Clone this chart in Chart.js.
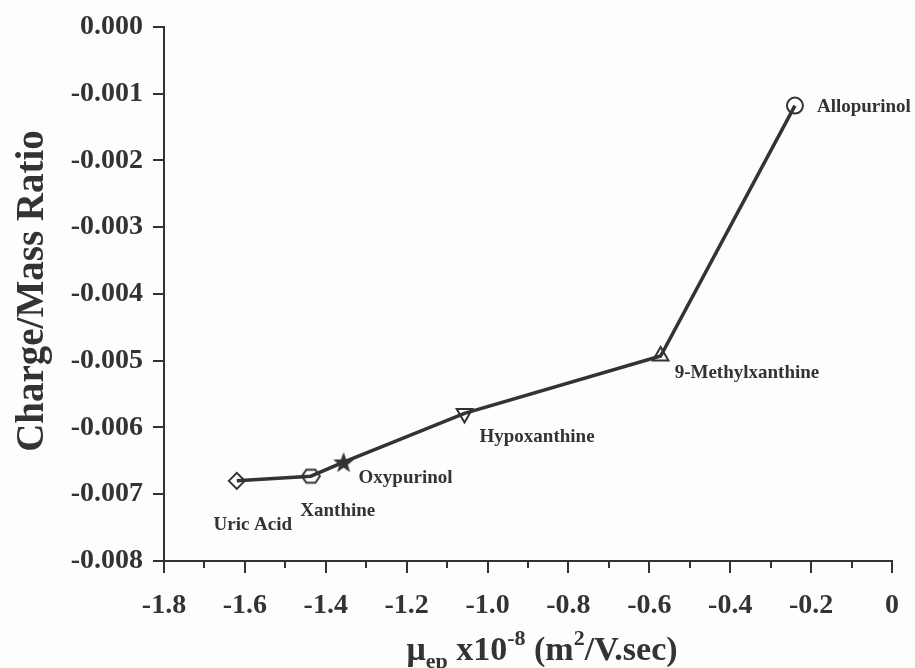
<!DOCTYPE html>
<html>
<head>
<meta charset="utf-8">
<title>Charge/Mass Ratio</title>
<script src="https://cdn.jsdelivr.net/npm/chart.js@4.4.1/dist/chart.umd.min.js"></script>
<style>
  html, body { margin: 0; padding: 0; background: #fdfdfc; }
  #chartBox { width: 915px; height: 668px; }
</style>
</head>
<body>
<div id="chartBox"><canvas id="mobilityChart" width="915" height="668"></canvas></div>
<script>
// Données : mobilité électrophorétique (x10^-8) et rapport charge/masse
const compounds = ['Uric Acid', 'Xanthine', 'Oxypurinol', 'Hypoxanthine', '9-Methylxanthine', 'Allopurinol'];
const mobility = [-1.62, -1.437, -1.356, -1.057, -0.572, -0.24];
const chargeMass = [-0.0068, -0.00673, -0.00652, -0.00579, -0.00493, -0.00118];
const xTicks = [-1.8, -1.6, -1.4, -1.2, -1.0, -0.8, -0.6, -0.4, -0.2, 0];
const yTicks = [0, -0.001, -0.002, -0.003, -0.004, -0.005, -0.006, -0.007, -0.008];

const INK = '#333333';
const SERIF = '"Liberation Serif", "Times New Roman", serif';

// Décalages des étiquettes par rapport au point (px)
const labelPos = [
    { dx: 16, dy: 44, align: 'center' },
    { dx: 27, dy: 35, align: 'center' },
    { dx: 15, dy: 16, align: 'left' },
    { dx: 15, dy: 24, align: 'left' },
    { dx: 14, dy: 17, align: 'left' },
    { dx: 22, dy: 1, align: 'left' }
];

// Marqueurs dessinés à la main (hexagone, étoile pleine)
function makeMarker(size, drawFn) {
    const c = document.createElement('canvas');
    c.width = size; c.height = size;
    const g = c.getContext('2d');
    g.strokeStyle = INK;
    g.fillStyle = INK;
    g.lineWidth = 2;
    drawFn(g, size / 2);
    return c;
}

const hexagon = makeMarker(22, function(g, m) {
    g.beginPath();
    for (let i = 0; i < 6; i++) {
        const a = Math.PI / 3 * i;
        const px = m + 9 * Math.cos(a);
        const py = m + 7.5 * Math.sin(a);
        if (i === 0) g.moveTo(px, py); else g.lineTo(px, py);
    }
    g.closePath();
    g.stroke();
});

const star = makeMarker(24, function(g, m) {
    g.beginPath();
    for (let i = 0; i < 10; i++) {
        const r = i % 2 === 0 ? 11 : 4.5;
        const a = -Math.PI / 2 + Math.PI / 5 * i;
        const px = m + r * Math.cos(a);
        const py = m + 1 + r * Math.sin(a);
        if (i === 0) g.moveTo(px, py); else g.lineTo(px, py);
    }
    g.closePath();
    g.fill();
});

const points = mobility.map(function(x, i) { return { x: x, y: chargeMass[i] }; });

// Fond, graduations secondaires, étiquettes et titres des axes
const extrasPlugin = {
    id: 'extras',
    beforeDraw: function(chart) {
        const ctx = chart.ctx;
        ctx.save();
        ctx.fillStyle = '#fdfdfc';
        ctx.fillRect(0, 0, chart.width, chart.height);
        ctx.restore();
    },
    afterDraw: function(chart) {
        const ctx = chart.ctx;
        const xs = chart.scales.x;
        const ys = chart.scales.y;
        ctx.save();

        // petites graduations sur l'axe x
        ctx.strokeStyle = INK;
        ctx.lineWidth = 2;
        for (let i = 0; i < xTicks.length - 1; i++) {
            const v = (xTicks[i] + xTicks[i + 1]) / 2;
            const px = Math.round(xs.getPixelForValue(v));
            ctx.beginPath();
            ctx.moveTo(px, xs.top);
            ctx.lineTo(px, xs.top + 7);
            ctx.stroke();
        }

        // noms des composés
        ctx.fillStyle = INK;
        ctx.font = 'bold 19px ' + SERIF;
        ctx.textBaseline = 'middle';
        compounds.forEach(function(name, i) {
            const px = xs.getPixelForValue(mobility[i]);
            const py = ys.getPixelForValue(chargeMass[i]);
            ctx.textAlign = labelPos[i].align;
            ctx.fillText(name, px + labelPos[i].dx, py + labelPos[i].dy);
        });

        // titre de l'axe y
        ctx.save();
        ctx.translate(43, 291);
        ctx.rotate(-Math.PI / 2);
        ctx.textAlign = 'center';
        ctx.textBaseline = 'alphabetic';
        ctx.font = 'bold 39px ' + SERIF;
        ctx.fillText('Charge/Mass Ratio', 0, 0);
        ctx.restore();

        // titre de l'axe x avec indice et exposants
        const parts = [
            { t: 'μ', size: 34, dy: 0 },
            { t: 'ep', size: 22, dy: 8 },
            { t: ' x10', size: 34, dy: 0 },
            { t: '-8', size: 22, dy: -15 },
            { t: ' (m', size: 34, dy: 0 },
            { t: '2', size: 22, dy: -15 },
            { t: '/V.sec)', size: 34, dy: 0 }
        ];
        ctx.textAlign = 'left';
        ctx.textBaseline = 'alphabetic';
        let total = 0;
        parts.forEach(function(p) {
            ctx.font = 'bold ' + p.size + 'px ' + SERIF;
            p.w = ctx.measureText(p.t).width;
            total += p.w;
        });
        let cx = 542 - total / 2;
        parts.forEach(function(p) {
            ctx.font = 'bold ' + p.size + 'px ' + SERIF;
            ctx.fillText(p.t, cx, 660 + p.dy);
            cx += p.w;
        });

        ctx.restore();
    }
};

function initChart() {
    const el = document.getElementById('mobilityChart');
    if (!el || typeof Chart === 'undefined') return;

    new Chart(el, {
        type: 'scatter',
        data: {
            datasets: [{
                data: points,
                showLine: true,
                borderColor: INK,
                borderWidth: 3.5,
                backgroundColor: 'rgba(0,0,0,0)',
                pointStyle: ['rectRot', hexagon, star, 'triangle', 'triangle', 'circle'],
                pointRotation: [0, 0, 0, 180, 0, 0],
                pointRadius: [8, 9, 11, 9, 9, 8],
                pointBorderColor: INK,
                pointBorderWidth: 2,
                pointBackgroundColor: 'rgba(0,0,0,0)'
            }]
        },
        options: {
            responsive: false,
            animation: false,
            layout: { padding: { top: 23, right: 22, left: 0, bottom: 0 } },
            plugins: {
                legend: { display: false },
                tooltip: { enabled: false }
            },
            scales: {
                x: {
                    type: 'linear',
                    min: xTicks[0],
                    max: xTicks[xTicks.length - 1],
                    afterFit: function(scale) { scale.height = 107; },
                    afterBuildTicks: function(scale) {
                        scale.ticks = xTicks.map(function(v) { return { value: v }; });
                    },
                    ticks: {
                        color: INK,
                        font: { family: SERIF, size: 28, weight: 'bold' },
                        padding: 16,
                        maxRotation: 0,
                        callback: function(v) { return v === 0 ? '0' : Number(v).toFixed(1); }
                    },
                    grid: { drawOnChartArea: false, drawTicks: true, tickLength: 12, color: INK, lineWidth: 2 },
                    border: { color: INK, width: 2 }
                },
                y: {
                    type: 'linear',
                    min: yTicks[yTicks.length - 1],
                    max: yTicks[0],
                    afterFit: function(scale) { scale.width = 164; },
                    afterBuildTicks: function(scale) {
                        scale.ticks = yTicks.map(function(v) { return { value: v }; });
                    },
                    ticks: {
                        color: INK,
                        font: { family: SERIF, size: 28, weight: 'bold' },
                        padding: 10,
                        callback: function(v) { return Math.abs(v) < 1e-9 ? '0.000' : Number(v).toFixed(3); }
                    },
                    grid: { drawOnChartArea: false, drawTicks: true, tickLength: 11, color: INK, lineWidth: 2 },
                    border: { color: INK, width: 2 }
                }
            }
        },
        plugins: [extrasPlugin]
    });
}

document.addEventListener('DOMContentLoaded', initChart);
</script>
</body>
</html>
